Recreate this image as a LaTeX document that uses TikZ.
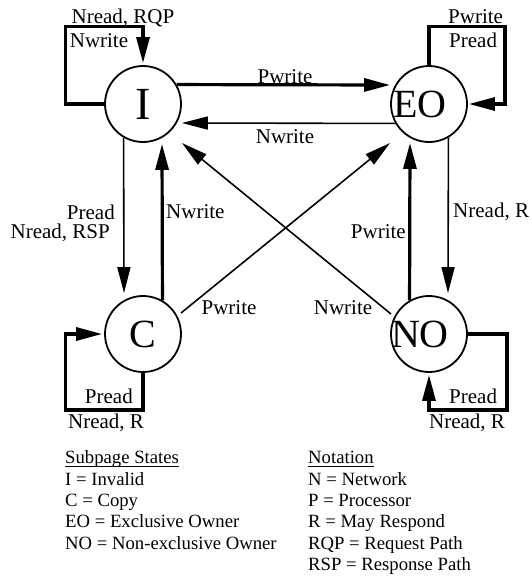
\documentclass[tikz,border=0pt]{standalone}
\usepackage{fontspec}
\setmainfont{Liberation Serif}
\usetikzlibrary{arrows.meta}
\begin{document}
\begin{tikzpicture}[x=1pt,y=-1pt,
  state/.style={circle, draw, line width=1.8pt, minimum size=76pt, inner sep=0pt,
    font=\fontsize{40}{40}\selectfont},
  tip/.style={-{Triangle[length=26pt,width=13pt]}},
  thinedge/.style={tip, line width=1.6pt},
  thickedge/.style={tip, line width=3.2pt, line join=miter},
  lbl/.style={font=\fontsize{21}{24}\selectfont, inner sep=0pt, anchor=base},
  legend/.style={font=\fontsize{18.7}{21}\selectfont, inner sep=0pt, anchor=base west}
]
\useasboundingbox (0,0) rectangle (532,576);
\fill[white] (0,0) rectangle (532,576);

% subpage states (two-letter names sit a little left of centre)
\node[state, font=\fontsize{46}{46}\selectfont] (I)  at (143,104) {I};
\node[state] (EO) at (429,104) {\kern-18pt EO};
\node[state] (C)  at (143,334) {C};
\node[state] (NO) at (429,334) {\kern-18pt NO};

% transitions between states
\draw[thickedge] (I.30) -- ([yshift=19pt]EO.west);
\draw[thinedge] (EO.210) -- ([yshift=-19pt]I.east);
\draw[thinedge] (I.240) -- ([xshift=-19pt,yshift=2pt]C.north);
\draw[thickedge] (C.60) -- ([xshift=19pt,yshift=-1pt]I.south);
\draw[thinedge] (EO.300) -- ([xshift=19pt,yshift=2pt]NO.north);
\draw[thickedge] (NO.120) -- ([xshift=-19pt]EO.south);
\draw[thinedge] ([shift={(38pt,21pt)}]C.center) -- ([shift={(-39pt,-39pt)}]EO.center);
\draw[thinedge] ([shift={(-38pt,20pt)}]NO.center) -- ([shift={(39pt,-39pt)}]I.center);

% self loops
\draw[thickedge] (I.west) -- ++(-39pt,0pt) |- ([yshift=39pt]I.north) -- ([yshift=2pt]I.north);
\draw[thickedge] (EO.north) -- ++(0pt,39pt) -| ([xshift=37pt]EO.east) -- ([xshift=1pt]EO.east);
\draw[thickedge] (C.south) -- ++(0pt,-37pt) -| ([xshift=-39pt]C.west) -- ([xshift=-2pt]C.west);
\draw[thickedge] (NO.east) -- ++(39pt,0pt) |- ([yshift=-37pt]NO.south) -- ([yshift=-2pt]NO.south);

% transition labels
\node[lbl] (lIa) at (123,23) {Nread, RQP};
\node[lbl] (lIb) at (99,47) {Nwrite};
\node[lbl, anchor=base west] (lEOa) at (448,23) {Pwrite};
\node[lbl, anchor=base west] (lEOb) at (449,47) {Pread};
\node[lbl] (lIE) at (285,83) {Pwrite};
\node[lbl] (lEI) at (285,143) {Nwrite};
\node[lbl, anchor=base east] (lICa) at (115,219) {Pread};
\node[lbl, anchor=base east] (lICb) at (110,238) {Nread, RSP};
\node[lbl, anchor=base west] (lCI) at (166,218) {Nwrite};
\node[lbl] (lCE) at (229,314) {Pwrite};
\node[lbl] (lNI) at (343,314) {Nwrite};
\node[lbl, anchor=base east] (lNE) at (406,238) {Pwrite};
\node[lbl, anchor=base west] (lEN) at (453,217) {Nread, R};
\node[lbl, anchor=base east] (lCa) at (133,403) {Pread};
\node[lbl] (lCb) at (106,428) {Nread, R};
\node[lbl, anchor=base west] (lNa) at (449,403) {Pread};
\node[lbl] (lNb) at (467,428) {Nread, R};

% legend: subpage states
\node[legend] (hdrA) at (65,463) {Subpage States};
\draw[line width=1pt] ([yshift=-3.5pt]hdrA.base west) -- ([yshift=-3.5pt]hdrA.base east);
\node[legend] (sI)  at (65,485) {I = Invalid};
\node[legend] (sC)  at (65,506) {C = Copy};
\node[legend] (sEO) at (65,527) {EO = Exclusive Owner};
\node[legend] (sNO) at (65,549) {NO = Non-exclusive Owner};

% legend: notation
\node[legend] (hdrB) at (308,463) {Notation};
\draw[line width=1pt] ([yshift=-3.5pt]hdrB.base west) -- ([yshift=-3.5pt]hdrB.base east);
\node[legend] (nN)   at (308,485) {N = Network};
\node[legend] (nP)   at (308,506) {P = Processor};
\node[legend] (nR)   at (308,527) {R = May Respond};
\node[legend] (nRQP) at (308,549) {RQP = Request Path};
\node[legend] (nRSP) at (308,570) {RSP = Response Path};
\end{tikzpicture}
\end{document}
